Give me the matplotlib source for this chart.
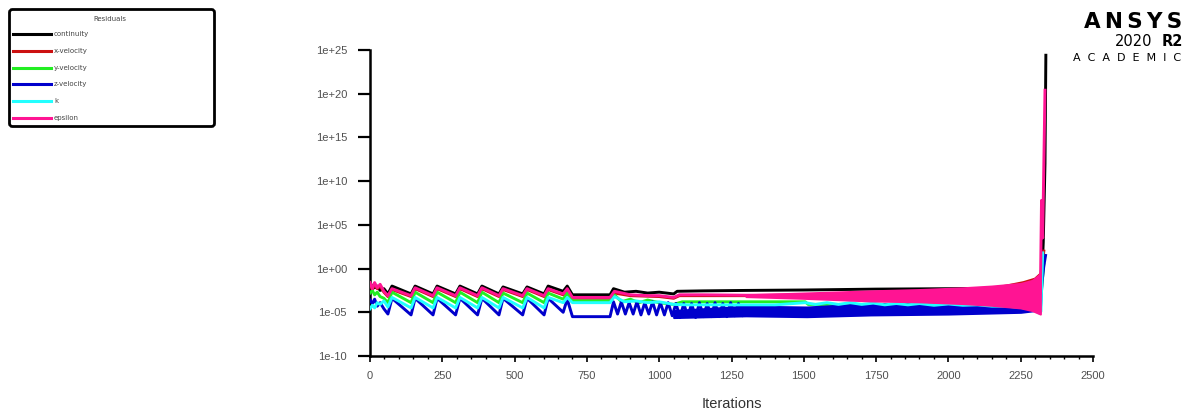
import numpy as np
import matplotlib
matplotlib.use('Agg')
import matplotlib.pyplot as plt
from matplotlib.patches import FancyBboxPatch
from matplotlib.ticker import FixedLocator, MultipleLocator, FuncFormatter

names = ['continuity', 'x-velocity', 'y-velocity', 'z-velocity', 'k', 'epsilon']
colors = ['#000000', '#cc1111', '#22ee22', '#0000cc', '#22ffff', '#ff1493']

# start-up sawtooth, iterations shared by all residuals (values are log10)
saw_it = [0, 8, 16, 25, 35, 48, 62, 76, 142, 156, 218, 232, 296, 311, 372, 387,
          446, 460, 528, 543, 602, 616, 668, 682, 700]

cont_saw = [-2.3, -1.9, -2.2, -2.0, -2.5, -2.3, -2.9, -2.0, -2.9, -2.0, -2.9, -2.0, -2.9,
            -2.0, -2.9, -2.0, -2.9, -2.1, -2.9, -2.1, -2.9, -2.0, -2.6, -2.0, -3.0]
xvel_saw = [-1.8, -2.4, -1.8, -2.3, -2.0, -2.7, -3.2, -2.4, -3.2, -2.3, -3.2, -2.3, -3.2,
            -2.3, -3.2, -2.3, -3.2, -2.4, -3.2, -2.4, -3.2, -2.4, -3.0, -2.4, -3.4]
yvel_saw = [-2.8, -2.5, -3.0, -2.7, -3.2, -3.4, -3.9, -2.7, -3.9, -2.7, -3.9, -2.7, -3.9,
            -2.7, -3.9, -2.7, -3.9, -2.8, -3.9, -2.8, -3.9, -2.8, -3.5, -2.8, -3.7]
zvel_saw = [-3.6, -4.0, -3.5, -4.3, -3.9, -4.6, -5.2, -3.4, -5.3, -3.4, -5.3, -3.4, -5.3,
            -3.4, -5.3, -3.4, -5.3, -3.4, -5.3, -3.4, -5.3, -3.4, -5.0, -3.5, -5.5]
k_saw = [-4.6, -4.2, -4.5, -3.9, -4.1, -3.7, -4.4, -3.3, -4.5, -3.3, -4.5, -3.3, -4.5,
         -3.3, -4.5, -3.3, -4.5, -3.3, -4.5, -3.3, -4.5, -3.3, -3.9, -3.3, -3.9]
eps_saw = [-1.6, -2.3, -1.6, -2.2, -1.8, -2.6, -3.1, -2.3, -3.1, -2.2, -3.1, -2.2, -3.1,
           -2.2, -3.1, -2.2, -3.1, -2.3, -3.1, -2.3, -3.1, -2.3, -2.9, -2.3, -3.3]

# rest of the run
cont_it = [830, 842, 880, 920, 960, 1000, 1050, 1062, 1150, 1300, 1500, 1750, 2000, 2200,
           2300, 2322, 2328, 2334, 2337]
cont_val = [-3.0, -2.3, -2.7, -2.6, -2.8, -2.7, -2.9, -2.6, -2.55, -2.5, -2.45, -2.35, -2.3,
            -2.25, -2.1, -1.8, 3.0, 12.0, 24.4]

xvel_it = [830, 845, 900, 1000, 1050, 1070, 1300, 1600, 1900, 2100, 2200, 2260, 2300, 2320, 2330]
xvel_val = [-3.4, -2.8, -3.1, -3.2, -3.4, -3.1, -3.1, -3.0, -2.8, -2.5, -2.0, -1.6, -1.2, -0.6, 2.0]

yvel_it = [830, 845, 870, 900, 930, 960, 1000, 1050, 1080, 1300, 1505, 1515, 1800, 2100,
           2300, 2320, 2330]
yvel_val = [-3.7, -3.0, -3.8, -3.5, -3.9, -3.6, -3.9, -4.1, -3.8, -3.8, -3.8, -4.1, -4.1, -4.2,
            -4.5, -3.0, 0.5]

zvel_it = [830, 842, 856, 869, 883, 896, 910, 923, 937, 950, 964, 977, 991, 1004, 1018,
           1031, 1045, 1058, 1072, 1085, 1099, 1112, 1126, 1139, 1153, 1166, 1180, 1193,
           1207, 1220, 1234, 1247, 1261, 1274, 1288, 1300, 2318, 2324, 2330, 2336]
zvel_val = [-5.5, -3.8, -5.2, -3.8, -5.2, -3.9, -5.2, -3.8, -5.3, -3.9, -5.2, -3.8, -5.3,
            -3.9, -5.3, -3.9, -5.4, -4.0, -5.6, -4.0, -5.5, -4.0, -5.6, -3.9, -5.5, -4.0,
            -5.5, -3.9, -5.5, -4.0, -5.5, -3.9, -5.4, -4.0, -5.4, -4.8, -4.7, -1.5, 0.3, 1.5]

k_it = [830, 845, 880, 920, 960, 1000, 1050, 1100, 1200, 1300, 1400, 1505, 1540, 1580,
        1620, 1660, 1700, 1740, 1780, 1820, 1860, 1900, 1950, 2000, 2050, 2100, 2150,
        2200, 2250, 2280, 2300, 2315, 2320, 2326]
k_val = [-3.9, -3.2, -3.8, -3.7, -3.9, -3.8, -4.1, -4.15, -4.15, -4.15, -4.15, -3.9, -4.1,
         -3.9, -4.1, -3.9, -4.1, -3.95, -4.15, -4.0, -4.15, -4.0, -4.2, -4.05, -4.2, -4.15,
         -4.3, -4.3, -4.45, -4.6, -4.8, -5.1, -4.9, 1.8]

eps_it = [830, 845, 900, 960, 1000, 1050, 1070, 1150, 1300, 2318, 2322, 2326, 2330, 2334]
eps_val = [-3.3, -2.6, -3.0, -3.1, -3.1, -3.3, -3.0, -3.0, -3.05, -2.9, 7.8, 3.5, 12.0, 20.4]

# dense oscillation, drawn as envelopes (log10)
zvel_band_it = [1050, 1300, 1510, 1730, 2000, 2250, 2300, 2318]
zvel_band_lo = [-5.6, -5.4, -5.5, -5.3, -5.2, -5.0, -4.8, -4.8]
zvel_band_hi = [-4.8, -4.3, -4.4, -4.0, -4.1, -4.2, -4.5, -4.6]

eps_band_it = [1300, 1500, 1730, 1900, 2050, 2150, 2250, 2290, 2318]
eps_band_lo = [-3.2, -3.4, -3.7, -3.8, -4.0, -4.2, -4.5, -4.8, -5.2]
eps_band_hi = [-3.0, -2.8, -2.55, -2.4, -2.2, -2.0, -1.7, -1.35, -0.6]

series = [(cont_saw, cont_it, cont_val), (xvel_saw, xvel_it, xvel_val),
          (yvel_saw, yvel_it, yvel_val), (zvel_saw, zvel_it, zvel_val),
          (k_saw, k_it, k_val), (eps_saw, eps_it, eps_val)]

fig = plt.figure(figsize=(11.86, 4.12), dpi=100)
ax = fig.add_axes([370 / 1186, 1 - 356 / 412, 723 / 1186, 306 / 412])

for i, (saw, it, val) in enumerate(series):
    x = saw_it + it
    y = 10 ** np.array(saw + val)
    ax.plot(x, y, color=colors[i], lw=2.1, zorder=2 + i)
    if names[i] == 'z-velocity':
        ax.fill_between(zvel_band_it, 10 ** np.array(zvel_band_lo), 10 ** np.array(zvel_band_hi),
                        color=colors[i], lw=1.5, zorder=2 + i)
    if names[i] == 'epsilon':
        ax.fill_between(eps_band_it, 10 ** np.array(eps_band_lo), 10 ** np.array(eps_band_hi),
                        color=colors[i], lw=1.5, zorder=2 + i)

ax.set_yscale('log')
ax.set_ylim(1e-10, 1e25)
ax.set_xlim(0, 2500)
ax.yaxis.set_major_locator(FixedLocator([10.0 ** p for p in range(-10, 26, 5)]))
ax.yaxis.set_minor_locator(FixedLocator([]))
ax.yaxis.set_major_formatter(FuncFormatter(lambda v, p: '1e%+03d' % int(round(np.log10(v)))))
ax.xaxis.set_major_locator(MultipleLocator(250))
ax.xaxis.set_minor_locator(MultipleLocator(50))

for s in ['top', 'right']:
    ax.spines[s].set_visible(False)
for s in ['left', 'bottom']:
    ax.spines[s].set_linewidth(1.8)

ax.tick_params(axis='y', which='major', direction='out', length=8.5, width=1.6, pad=8,
               labelsize=8, labelcolor='#505050')
ax.tick_params(axis='x', which='major', direction='out', length=4, width=1.2, pad=7,
               labelsize=8, labelcolor='#505050')
ax.tick_params(axis='x', which='minor', direction='out', length=2.2, width=1)
for lab in ax.get_xticklabels() + ax.get_yticklabels():
    lab.set_family('Liberation Sans')
ax.set_xlabel('Iterations', fontsize=10.5, color='#333333', family='Liberation Sans', labelpad=11)

# legend panel
lax = fig.add_axes([8 / 1186, 1 - 128 / 412, 208 / 1186, 120 / 412])
lax.set_xlim(0, 208)
lax.set_ylim(120, 0)
lax.axis('off')
lax.add_patch(FancyBboxPatch((1.5, 1.5), 205, 117, boxstyle='round,pad=0,rounding_size=3',
                             lw=2, ec='black', fc='white', clip_on=False))
lax.text(102, 11, 'Residuals', fontsize=5, color='#444444', ha='center', va='center')
entry_y = [26, 43, 60, 76, 93, 110]
for i, nm in enumerate(names):
    lax.plot([5, 43], [entry_y[i], entry_y[i]], color=colors[i], lw=2.2)
    lax.text(46, entry_y[i], nm, fontsize=5, color='#444444', ha='left', va='center')

# logo
fig.text(1182 / 1186, 1 - 22 / 412, 'A\u2009N\u2009S\u2009Y\u2009S', fontsize=15.5,
         weight='bold', ha='right', va='center')
fig.text(1183 / 1186, 1 - 41 / 412, 'R2', fontsize=10.5, weight='bold', ha='right', va='center')
fig.text(1152 / 1186, 1 - 41 / 412, '2020', fontsize=10.5, ha='right', va='center')
fig.text(1181 / 1186, 1 - 58 / 412, 'A  C  A  D  E  M  I  C', fontsize=8, ha='right', va='center')

fig.savefig('out.png', dpi=100)
